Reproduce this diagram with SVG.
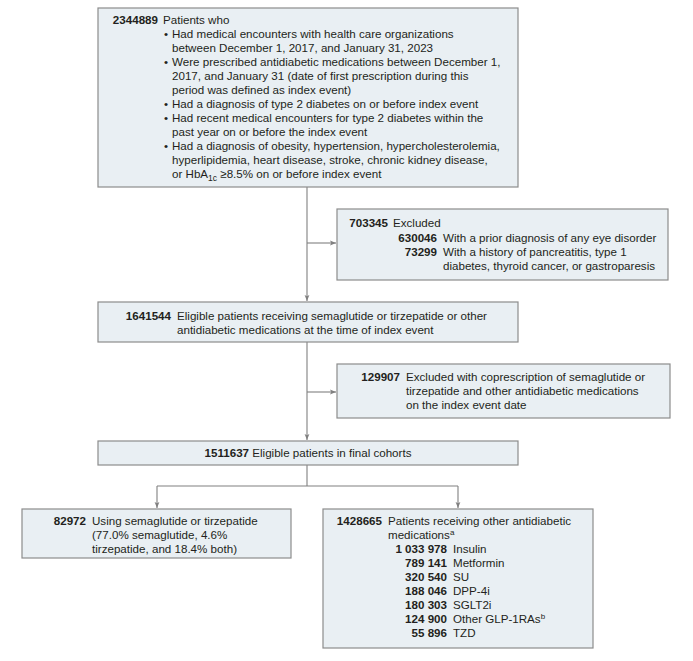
<svg xmlns="http://www.w3.org/2000/svg" width="693" height="661" viewBox="0 0 693 661">
<style>
.box{fill:#e9eff3;stroke:#8c8c8c;stroke-width:1.2}
text{font-family:"Liberation Sans",Arial,sans-serif;font-size:11.6px;fill:#231f20}
.n{font-weight:bold}
.e{text-anchor:end}
.m{text-anchor:middle}
.c{fill:none;stroke:#808080;stroke-width:1.1}
</style>
<defs>
<marker id="ah" viewBox="0 0 10 10" refX="10" refY="5" markerWidth="6" markerHeight="6" markerUnits="userSpaceOnUse" orient="auto">
<path d="M0,1 L10,5 L0,9 L2,5 Z" fill="#808080"/>
</marker>
</defs>
<rect width="693" height="661" fill="#ffffff"/>
<g id="connectors">
<path class="c" d="M307,187 V301" marker-end="url(#ah)"/>
<path class="c" d="M307,243 H336" marker-end="url(#ah)"/>
<path class="c" d="M307,342 V440" marker-end="url(#ah)"/>
<path class="c" d="M307,392 H336" marker-end="url(#ah)"/>
<path class="c" d="M307,465 V486 M157,486 H458"/>
<path class="c" d="M157,486 V508" marker-end="url(#ah)"/>
<path class="c" d="M458,486 V508" marker-end="url(#ah)"/>
</g>
<g id="n1">
<rect class="box" x="98" y="8" width="420" height="179"/>
<text class="n e" x="158" y="24">2344889</text>
<text x="163" y="24">Patients who</text>
<text x="164" y="38">•</text><text x="172" y="38">Had medical encounters with health care organizations</text>
<text x="172" y="52">between December 1, 2017, and January 31, 2023</text>
<text x="164" y="66">•</text><text x="172" y="66">Were prescribed antidiabetic medications between December 1,</text>
<text x="172" y="80">2017, and January 31 (date of first prescription during this</text>
<text x="172" y="94">period was defined as index event)</text>
<text x="164" y="108">•</text><text x="172" y="108">Had a diagnosis of type 2 diabetes on or before index event</text>
<text x="164" y="122">•</text><text x="172" y="122">Had recent medical encounters for type 2 diabetes within the</text>
<text x="172" y="136">past year on or before the index event</text>
<text x="164" y="150">•</text><text x="172" y="150">Had a diagnosis of obesity, hypertension, hypercholesterolemia,</text>
<text x="172" y="164">hyperlipidemia, heart disease, stroke, chronic kidney disease,</text>
<text x="172" y="178">or HbA<tspan font-size="8.5" dy="3">1c</tspan><tspan dy="-3"> ≥8.5% on or before index event</tspan></text>
</g>
<g id="n2">
<rect class="box" x="337" y="209" width="331" height="71"/>
<text class="n e" x="388" y="227">703345</text>
<text x="393" y="227">Excluded</text>
<text class="n e" x="437" y="242">630046</text>
<text x="443" y="242">With a prior diagnosis of any eye disorder</text>
<text class="n e" x="437" y="256">73299</text>
<text x="443" y="256">With a history of pancreatitis, type 1</text>
<text x="443" y="270">diabetes, thyroid cancer, or gastroparesis</text>
</g>
<g id="n3">
<rect class="box" x="98" y="302" width="420" height="40"/>
<text class="n e" x="171" y="320">1641544</text>
<text x="177" y="320">Eligible patients receiving semaglutide or tirzepatide or other</text>
<text x="177" y="334">antidiabetic medications at the time of index event</text>
</g>
<g id="n4">
<rect class="box" x="337" y="364" width="333" height="54"/>
<text class="n e" x="400" y="381">129907</text>
<text x="406" y="381">Excluded with coprescription of semaglutide or</text>
<text x="406" y="395">tirzepatide and other antidiabetic medications</text>
<text x="406" y="409">on the index event date</text>
</g>
<g id="n5">
<rect class="box" x="98" y="441" width="420" height="24"/>
<text class="m" x="308" y="457"><tspan class="n">1511637</tspan> Eligible patients in final cohorts</text>
</g>
<g id="n6">
<rect class="box" x="22" y="509" width="269" height="49"/>
<text class="n e" x="86" y="525">82972</text>
<text x="92" y="525">Using semaglutide or tirzepatide</text>
<text x="92" y="539">(77.0% semaglutide, 4.6%</text>
<text x="92" y="553">tirzepatide, and 18.4% both)</text>
</g>
<g id="n7">
<rect class="box" x="323" y="509" width="270" height="139"/>
<text class="n e" x="382" y="525">1428665</text>
<text x="388" y="525">Patients receiving other antidiabetic</text>
<text x="388" y="539">medications<tspan font-size="8" dy="-4">a</tspan></text>
<text class="n e" x="447" y="553">1 033 978</text><text x="453" y="553">Insulin</text>
<text class="n e" x="447" y="567">789 141</text><text x="453" y="567">Metformin</text>
<text class="n e" x="447" y="581">320 540</text><text x="453" y="581">SU</text>
<text class="n e" x="447" y="595">188 046</text><text x="453" y="595">DPP-4i</text>
<text class="n e" x="447" y="609">180 303</text><text x="453" y="609">SGLT2i</text>
<text class="n e" x="447" y="623">124 900</text><text x="453" y="623">Other GLP-1RAs<tspan font-size="8" dy="-4">b</tspan></text>
<text class="n e" x="447" y="637">55 896</text><text x="453" y="637">TZD</text>
</g>
</svg>
